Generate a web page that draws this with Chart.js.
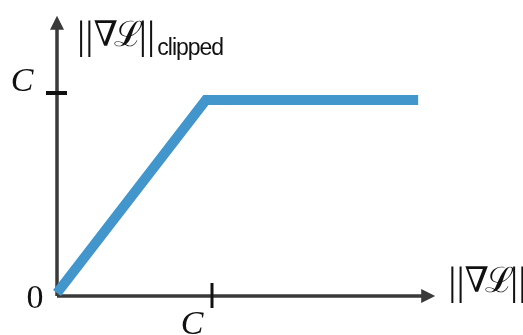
<!DOCTYPE html>
<html>
<head>
<meta charset="utf-8">
<script src="https://cdn.jsdelivr.net/npm/chart.js@4"></script>
<style>
  html, body { margin: 0; padding: 0; background: #fff; }
  canvas { display: block; }
</style>
</head>
<body>
<canvas id="clipChart" width="523" height="335"></canvas>
<script>
// gradient norm (x) vs clipped gradient norm (y), in units of C
const gradNorm = [0, 0.96, 2.33];
const clippedNorm = [0.015, 0.965, 0.965];

// tick marks on both axes sit at C = 1
const tickValues = [1];
const tickLabels = ['C'];
const originLabel = '0';
const normBars = '||';
const normBody = '∇ℒ';
const yAxisSub = 'clipped';

// how far the arrow axes run, in data units
const xAxisEnd = 2.44;
const yAxisEnd = 1.38;

// ||∇L|| drawn piece by piece so the bars come out tall and thin
function drawNorm(ctx, left, baseline) {
  let x = left;
  ctx.textAlign = 'left';
  ctx.font = '41px "Liberation Serif"';
  ctx.fillText(normBars, x, baseline + 2);
  x += ctx.measureText(normBars).width;
  ctx.font = '35px "DejaVu Serif"';
  ctx.letterSpacing = '-4px';
  ctx.fillText(normBody, x, baseline);
  x += ctx.measureText(normBody).width;
  ctx.letterSpacing = '0px';
  ctx.font = '41px "Liberation Serif"';
  ctx.fillText(normBars, x, baseline + 2);
  return x + ctx.measureText(normBars).width;
}

const axisPlugin = {
  id: 'arrowAxes',
  beforeDatasetsDraw(chart) {
    const { ctx, scales: { x, y } } = chart;
    const x0 = x.getPixelForValue(0);
    const y0 = y.getPixelForValue(0);
    const xEnd = x.getPixelForValue(xAxisEnd);
    const yEnd = y.getPixelForValue(yAxisEnd);

    ctx.save();
    ctx.strokeStyle = '#3a3a3a';
    ctx.fillStyle = '#3a3a3a';
    ctx.lineWidth = 3.5;

    // axis lines
    ctx.beginPath();
    ctx.moveTo(x0, y0);
    ctx.lineTo(xEnd - 10, y0);
    ctx.moveTo(x0, y0);
    ctx.lineTo(x0, yEnd + 10);
    ctx.stroke();

    // arrow heads
    ctx.beginPath();
    ctx.moveTo(xEnd, y0);
    ctx.lineTo(xEnd - 14, y0 - 7);
    ctx.lineTo(xEnd - 14, y0 + 7);
    ctx.closePath();
    ctx.fill();
    ctx.beginPath();
    ctx.moveTo(x0, yEnd);
    ctx.lineTo(x0 - 7, yEnd + 14);
    ctx.lineTo(x0 + 7, yEnd + 14);
    ctx.closePath();
    ctx.fill();

    // tick marks
    ctx.strokeStyle = '#111';
    tickValues.forEach(v => {
      const px = x.getPixelForValue(v);
      const py = y.getPixelForValue(v);
      ctx.lineWidth = 3;
      ctx.beginPath();
      ctx.moveTo(px, y0 - 13);
      ctx.lineTo(px, y0 + 12);
      ctx.stroke();
      ctx.lineWidth = 4;
      ctx.beginPath();
      ctx.moveTo(x0 - 11, py);
      ctx.lineTo(x0 + 10, py);
      ctx.stroke();
    });
    ctx.restore();
  },
  afterDraw(chart) {
    const { ctx, scales: { x, y } } = chart;
    const x0 = x.getPixelForValue(0);
    const y0 = y.getPixelForValue(0);
    ctx.save();
    ctx.fillStyle = '#111';
    ctx.textBaseline = 'alphabetic';

    // tick labels
    ctx.font = 'italic 34px "Liberation Serif"';
    tickValues.forEach((v, i) => {
      ctx.textAlign = 'center';
      ctx.fillText(tickLabels[i], x.getPixelForValue(v) - 20, y0 + 38);
      ctx.fillText(tickLabels[i], x0 - 35, y.getPixelForValue(v) - 2);
    });
    ctx.font = '34px "Liberation Serif"';
    ctx.textAlign = 'center';
    ctx.fillText(originLabel, x0 - 22, y0 + 12);

    // y axis title with subscript
    const yTop = y.getPixelForValue(yAxisEnd);
    const after = drawNorm(ctx, x0 + 20, yTop + 30);
    ctx.font = '23px "Liberation Sans"';
    ctx.letterSpacing = '-1px';
    ctx.textAlign = 'left';
    ctx.fillText(yAxisSub, after + 2, yTop + 39);
    ctx.letterSpacing = '0px';

    // x axis title
    drawNorm(ctx, x.getPixelForValue(xAxisEnd) + 13, y0 - 4);
    ctx.restore();
  }
};

new Chart(document.getElementById('clipChart'), {
  type: 'scatter',
  data: {
    datasets: [{
      data: gradNorm.map((v, i) => ({ x: v, y: clippedNorm[i] })),
      showLine: true,
      borderColor: 'rgb(66, 150, 204)',
      borderWidth: 10,
      borderJoinStyle: 'miter',
      borderCapStyle: 'butt',
      pointRadius: 0,
      tension: 0,
      clip: false
    }]
  },
  options: {
    responsive: false,
    animation: false,
    layout: { padding: { left: 57, right: 78.5, top: 11.8, bottom: 39 } },
    plugins: { legend: { display: false }, tooltip: { enabled: false } },
    scales: {
      x: { type: 'linear', min: 0, max: 2.5, display: false },
      y: { type: 'linear', min: 0, max: 1.4, display: false }
    }
  },
  plugins: [axisPlugin]
});
</script>
</body>
</html>
